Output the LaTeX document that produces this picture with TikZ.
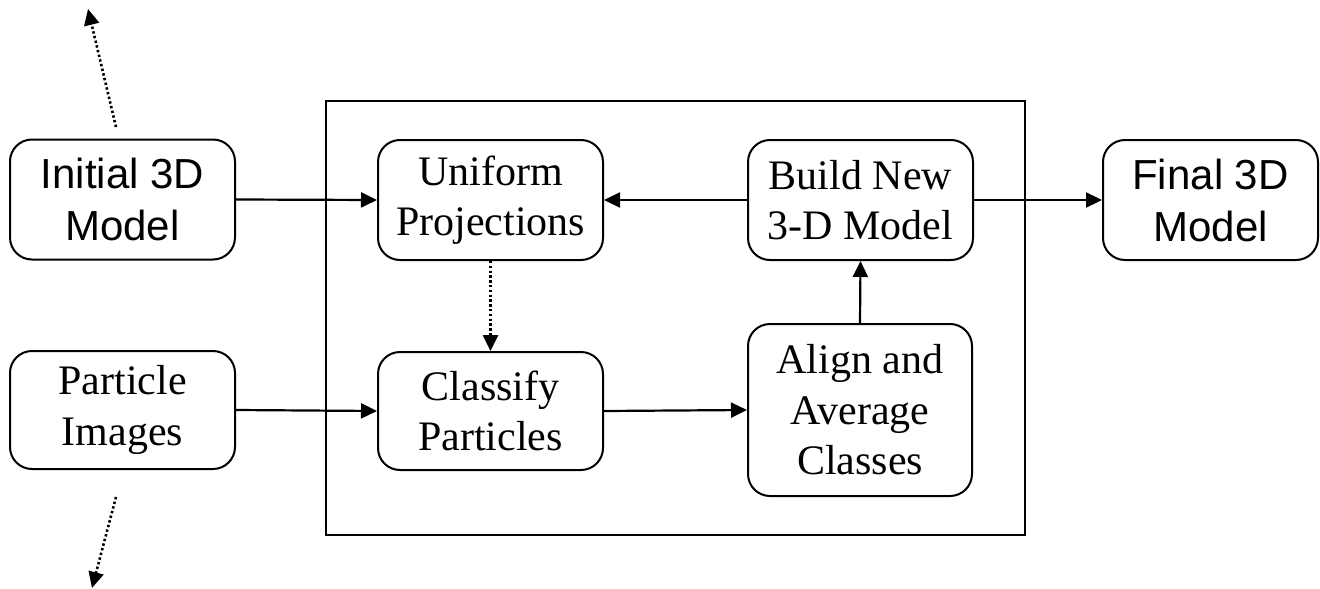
\documentclass[tikz,border=0pt]{standalone}
\usepackage{fontspec}
\setmainfont{Liberation Serif}
\newfontfamily\arialfont{Liberation Sans}
\usetikzlibrary{arrows.meta}
\begin{document}
\begin{tikzpicture}[x=1pt,y=-1pt,
  box/.style={draw, line width=2pt, rounded corners=22pt, align=center,
    minimum width=225pt, minimum height=120pt, inner sep=0pt},
  sanstext/.style={font=\arialfont\fontsize{42}{52}\selectfont},
  seriftext/.style={font=\fontsize{42}{50.5}\selectfont},
  conn/.style={line width=2.2pt, -{Triangle[length=16pt,width=15pt]}},
  dotconn/.style={line width=2.6pt, dash pattern=on 2.4pt off 2.4pt, -{Triangle[length=16pt,width=15pt]}},
  frame/.style={draw, line width=2pt, minimum width=699pt, minimum height=434pt, inner sep=0pt}
]
\useasboundingbox (0,0) rectangle (1320,589);
\node[frame] (loop) at (675.5,318) {};
\node[box, sanstext] (init) at (122.5,199.5) {Initial 3D\\Model};
\node[box, seriftext] (unif) at (490.5,200) {Uniform\\Projections};
\node[box, seriftext] (build) at (860.5,200) {Build New\\3-D Model};
\node[box, sanstext, minimum width=215pt] (final) at (1210.5,200) {Final 3D\\Model};
\node[box, seriftext, minimum height=118pt] (part) at (122.5,410) {Particle\\Images};
\node[box, seriftext, minimum height=118pt] (class) at (490.5,411) {Classify\\Particles};
\node[box, seriftext, minimum width=224pt, minimum height=172pt] (align) at (860,410) {Align and\\Average\\Classes};
\draw[conn] (init.east) -- (unif.west);
\draw[conn] (build.west) -- (unif.east);
\draw[conn] (build.east) -- (final.west);
\draw[conn] (align.north) -- (build.south);
\draw[dotconn] (unif.south) -- (class.north);
\draw[conn] (part.east) -- (class.west);
\draw[conn] (class.east) -- (align.west);
\coordinate (upstart) at (116,127);
\coordinate (upend) at (88,9);
\coordinate (downstart) at (116,497);
\coordinate (downend) at (92,588);
\draw[dotconn] (upstart) -- (upend);
\draw[dotconn] (downstart) -- (downend);
\end{tikzpicture}
\end{document}
